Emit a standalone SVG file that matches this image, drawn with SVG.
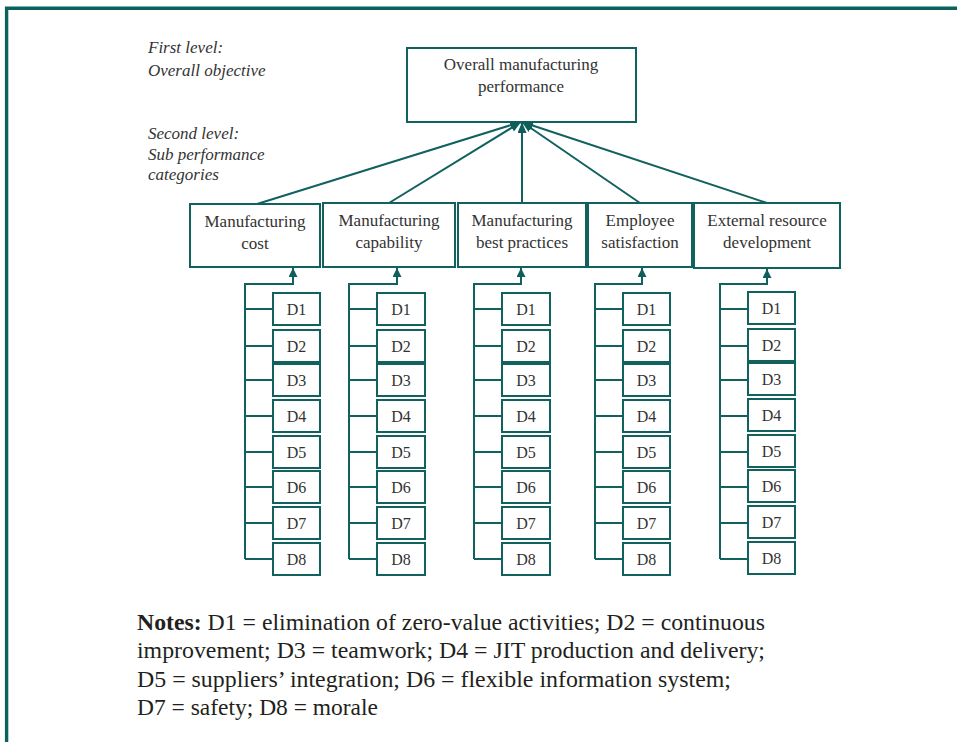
<svg xmlns="http://www.w3.org/2000/svg" width="957" height="742" viewBox="0 0 957 742">
<style>
.bx{fill:#fff;stroke:#11625f;stroke-width:2}
.ln{fill:none;stroke:#11625f;stroke-width:2}
.t{font-family:"Liberation Serif","Times New Roman",serif;font-size:17px;fill:#333;text-anchor:middle}
.d{font-family:"Liberation Serif","Times New Roman",serif;font-size:16px;fill:#333;text-anchor:middle}
.it{font-family:"Liberation Serif","Times New Roman",serif;font-size:17px;font-style:italic;fill:#333}
.n{font-family:"Liberation Serif","Times New Roman",serif;font-size:23.5px;fill:#231f20}
</style>
<defs>
<marker id="ah" markerUnits="userSpaceOnUse" markerWidth="12" markerHeight="10" refX="11" refY="4.5" orient="auto"><path d="M0,0 L11,4.5 L0,9 z" fill="#0e5f5c"/></marker>
<marker id="ah2" markerUnits="userSpaceOnUse" markerWidth="10" markerHeight="10" refX="9" refY="4.5" orient="auto"><path d="M0,0 L9,4.5 L0,9 z" fill="#0e5f5c"/></marker>
</defs>
<rect width="957" height="742" fill="#fff"/>
<g id="frame"><path d="M6.6,742 V8.3 H957" fill="none" stroke="#0a615d" stroke-width="3.4"/></g>
<g id="labels">
<text class="it" x="148" y="53">First level:</text>
<text class="it" x="148" y="76">Overall objective</text>
<text class="it" x="148" y="139">Second level:</text>
<text class="it" x="148" y="160">Sub performance</text>
<text class="it" x="148" y="180">categories</text>
</g>
<g id="top"><rect class="bx" x="407" y="48" width="229" height="74"/><text class="t" x="521" y="70">Overall manufacturing</text><text class="t" x="521" y="92">performance</text></g>
<g id="cat1"><rect class="bx" x="190" y="204" width="130" height="63"/><text class="t" x="255" y="227">Manufacturing</text><text class="t" x="255" y="249">cost</text></g>
<g id="cat2"><rect class="bx" x="323" y="203" width="132" height="64"/><text class="t" x="389" y="226">Manufacturing</text><text class="t" x="389" y="248">capability</text></g>
<g id="cat3"><rect class="bx" x="458" y="203" width="128" height="64"/><text class="t" x="522" y="226">Manufacturing</text><text class="t" x="522" y="248">best practices</text></g>
<g id="cat4"><rect class="bx" x="588" y="203" width="104" height="64"/><text class="t" x="640" y="226">Employee</text><text class="t" x="640" y="248">satisfaction</text></g>
<g id="cat5"><rect class="bx" x="694" y="203" width="146" height="65"/><text class="t" x="767" y="226">External resource</text><text class="t" x="767" y="248">development</text></g>
<g id="connectors">
<line class="ln" x1="257" y1="204" x2="521" y2="122" marker-end="url(#ah)"/>
<line class="ln" x1="389" y1="203" x2="521" y2="122" marker-end="url(#ah)"/>
<line class="ln" x1="522" y1="203" x2="522" y2="122" marker-end="url(#ah)"/>
<line class="ln" x1="640" y1="203" x2="522" y2="122" marker-end="url(#ah)"/>
<line class="ln" x1="767" y1="203" x2="522" y2="122" marker-end="url(#ah)"/>
<path class="ln" d="M245,559 V284 H293 V268" marker-end="url(#ah2)"/>
<path class="ln" d="M245,309H273M245,346H273M245,380H273M245,416H273M245,452H273M245,487H273M245,523H273M245,559H273"/>
<path class="ln" d="M349,559 V284 H397 V268" marker-end="url(#ah2)"/>
<path class="ln" d="M349,309H377M349,346H377M349,380H377M349,416H377M349,452H377M349,487H377M349,523H377M349,559H377"/>
<path class="ln" d="M474,559 V284 H521 V268" marker-end="url(#ah2)"/>
<path class="ln" d="M474,309H502M474,346H502M474,380H502M474,416H502M474,452H502M474,487H502M474,523H502M474,559H502"/>
<path class="ln" d="M595,559 V284 H642 V268" marker-end="url(#ah2)"/>
<path class="ln" d="M595,309H623M595,346H623M595,380H623M595,416H623M595,452H623M595,487H623M595,523H623M595,559H623"/>
<path class="ln" d="M720,559 V284 H767 V269" marker-end="url(#ah2)"/>
<path class="ln" d="M720,309H748M720,346H748M720,380H748M720,416H748M720,452H748M720,487H748M720,523H748M720,559H748"/>
</g>
<g id="c1">
<g id="c1d1"><rect class="bx" x="273" y="293" width="47" height="32"/><text class="d" x="296.5" y="315">D1</text></g>
<g id="c1d2"><rect class="bx" x="273" y="330" width="47" height="32"/><text class="d" x="296.5" y="352">D2</text></g>
<g id="c1d3"><rect class="bx" x="273" y="364" width="47" height="32"/><text class="d" x="296.5" y="386">D3</text></g>
<g id="c1d4"><rect class="bx" x="273" y="400" width="47" height="32"/><text class="d" x="296.5" y="422">D4</text></g>
<g id="c1d5"><rect class="bx" x="273" y="436" width="47" height="32"/><text class="d" x="296.5" y="458">D5</text></g>
<g id="c1d6"><rect class="bx" x="273" y="471" width="47" height="32"/><text class="d" x="296.5" y="493">D6</text></g>
<g id="c1d7"><rect class="bx" x="273" y="507" width="47" height="32"/><text class="d" x="296.5" y="529">D7</text></g>
<g id="c1d8"><rect class="bx" x="273" y="543" width="47" height="32"/><text class="d" x="296.5" y="565">D8</text></g>
</g>
<g id="c2">
<g id="c2d1"><rect class="bx" x="377" y="293" width="48" height="32"/><text class="d" x="401" y="315">D1</text></g>
<g id="c2d2"><rect class="bx" x="377" y="330" width="48" height="32"/><text class="d" x="401" y="352">D2</text></g>
<g id="c2d3"><rect class="bx" x="377" y="364" width="48" height="32"/><text class="d" x="401" y="386">D3</text></g>
<g id="c2d4"><rect class="bx" x="377" y="400" width="48" height="32"/><text class="d" x="401" y="422">D4</text></g>
<g id="c2d5"><rect class="bx" x="377" y="436" width="48" height="32"/><text class="d" x="401" y="458">D5</text></g>
<g id="c2d6"><rect class="bx" x="377" y="471" width="48" height="32"/><text class="d" x="401" y="493">D6</text></g>
<g id="c2d7"><rect class="bx" x="377" y="507" width="48" height="32"/><text class="d" x="401" y="529">D7</text></g>
<g id="c2d8"><rect class="bx" x="377" y="543" width="48" height="32"/><text class="d" x="401" y="565">D8</text></g>
</g>
<g id="c3">
<g id="c3d1"><rect class="bx" x="502" y="293" width="48" height="32"/><text class="d" x="526" y="315">D1</text></g>
<g id="c3d2"><rect class="bx" x="502" y="330" width="48" height="32"/><text class="d" x="526" y="352">D2</text></g>
<g id="c3d3"><rect class="bx" x="502" y="364" width="48" height="32"/><text class="d" x="526" y="386">D3</text></g>
<g id="c3d4"><rect class="bx" x="502" y="400" width="48" height="32"/><text class="d" x="526" y="422">D4</text></g>
<g id="c3d5"><rect class="bx" x="502" y="436" width="48" height="32"/><text class="d" x="526" y="458">D5</text></g>
<g id="c3d6"><rect class="bx" x="502" y="471" width="48" height="32"/><text class="d" x="526" y="493">D6</text></g>
<g id="c3d7"><rect class="bx" x="502" y="507" width="48" height="32"/><text class="d" x="526" y="529">D7</text></g>
<g id="c3d8"><rect class="bx" x="502" y="543" width="48" height="32"/><text class="d" x="526" y="565">D8</text></g>
</g>
<g id="c4">
<g id="c4d1"><rect class="bx" x="623" y="293" width="47" height="32"/><text class="d" x="646.5" y="315">D1</text></g>
<g id="c4d2"><rect class="bx" x="623" y="330" width="47" height="32"/><text class="d" x="646.5" y="352">D2</text></g>
<g id="c4d3"><rect class="bx" x="623" y="364" width="47" height="32"/><text class="d" x="646.5" y="386">D3</text></g>
<g id="c4d4"><rect class="bx" x="623" y="400" width="47" height="32"/><text class="d" x="646.5" y="422">D4</text></g>
<g id="c4d5"><rect class="bx" x="623" y="436" width="47" height="32"/><text class="d" x="646.5" y="458">D5</text></g>
<g id="c4d6"><rect class="bx" x="623" y="471" width="47" height="32"/><text class="d" x="646.5" y="493">D6</text></g>
<g id="c4d7"><rect class="bx" x="623" y="507" width="47" height="32"/><text class="d" x="646.5" y="529">D7</text></g>
<g id="c4d8"><rect class="bx" x="623" y="543" width="47" height="32"/><text class="d" x="646.5" y="565">D8</text></g>
</g>
<g id="c5">
<g id="c5d1"><rect class="bx" x="748" y="292" width="47" height="32"/><text class="d" x="771.5" y="314">D1</text></g>
<g id="c5d2"><rect class="bx" x="748" y="329" width="47" height="32"/><text class="d" x="771.5" y="351">D2</text></g>
<g id="c5d3"><rect class="bx" x="748" y="363" width="47" height="32"/><text class="d" x="771.5" y="385">D3</text></g>
<g id="c5d4"><rect class="bx" x="748" y="399" width="47" height="32"/><text class="d" x="771.5" y="421">D4</text></g>
<g id="c5d5"><rect class="bx" x="748" y="435" width="47" height="32"/><text class="d" x="771.5" y="457">D5</text></g>
<g id="c5d6"><rect class="bx" x="748" y="470" width="47" height="32"/><text class="d" x="771.5" y="492">D6</text></g>
<g id="c5d7"><rect class="bx" x="748" y="506" width="47" height="32"/><text class="d" x="771.5" y="528">D7</text></g>
<g id="c5d8"><rect class="bx" x="748" y="542" width="47" height="32"/><text class="d" x="771.5" y="564">D8</text></g>
</g>
<g id="notes">
<text class="n" x="137" y="630" textLength="628" lengthAdjust="spacingAndGlyphs"><tspan font-weight="bold">Notes:</tspan> D1 = elimination of zero-value activities; D2 = continuous</text>
<text class="n" x="137" y="658" textLength="628" lengthAdjust="spacingAndGlyphs">improvement; D3 = teamwork; D4 = JIT production and delivery;</text>
<text class="n" x="137" y="687" textLength="594" lengthAdjust="spacingAndGlyphs">D5 = suppliers’ integration; D6 = flexible information system;</text>
<text class="n" x="137" y="715" textLength="241" lengthAdjust="spacingAndGlyphs">D7 = safety; D8 = morale</text>
</g>
</svg>
